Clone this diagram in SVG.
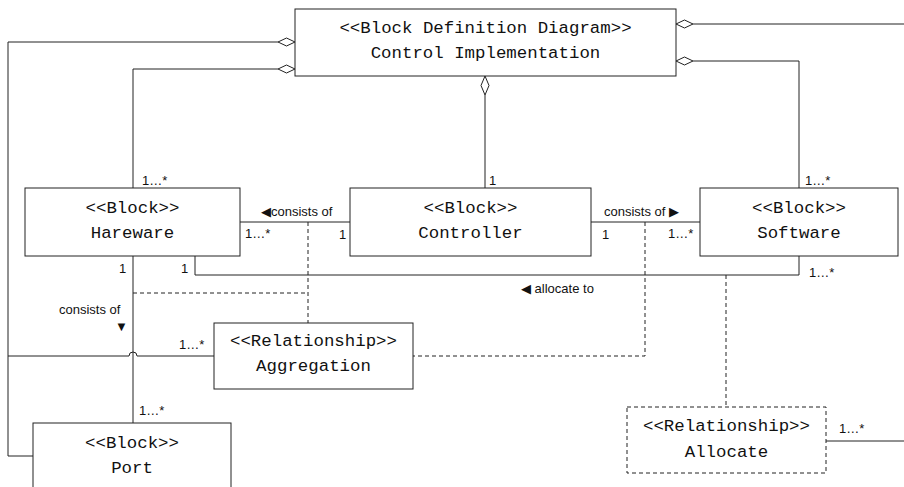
<svg xmlns="http://www.w3.org/2000/svg" width="904" height="487" viewBox="0 0 904 487">
<style>
.box{fill:#fff;stroke:#222;stroke-width:1}
.dbox{fill:#fff;stroke:#222;stroke-width:1;stroke-dasharray:4 3}
.ln{fill:none;stroke:#222;stroke-width:1}
.dl{fill:none;stroke:#222;stroke-width:1;stroke-dasharray:4 3}
.dia{fill:#fff;stroke:#222;stroke-width:1}
.t{font-family:"Liberation Mono","DejaVu Sans Mono",monospace;font-size:17.4px;fill:#111;text-anchor:middle}
.s{font-family:"Liberation Sans","DejaVu Sans",sans-serif;font-size:13px;fill:#111}
</style>
<rect width="904" height="487" fill="#fff"/>
<g id="connectors">
<polyline class="ln" points="278,42 8,42 8,456 33,456"/>
<polygon class="dia" points="295,42 286.5,38 278,42 286.5,46"/>
<polyline class="ln" points="278,69 133,69 133,188"/>
<polygon class="dia" points="295,69 286.5,65 278,69 286.5,73"/>
<line class="ln" x1="485" y1="95" x2="485" y2="188"/>
<polygon class="dia" points="485,76 481,85.5 485,95 489,85.5"/>
<line class="ln" x1="693" y1="24" x2="904" y2="24"/>
<polygon class="dia" points="676,24 684.5,20 693,24 684.5,28"/>
<polyline class="ln" points="693,61 799,61 799,188"/>
<polygon class="dia" points="676,61 684.5,57 693,61 684.5,65"/>
<line class="ln" x1="240" y1="222" x2="350" y2="222"/>
<line class="ln" x1="591" y1="222" x2="700" y2="222"/>
<line class="ln" x1="133" y1="256" x2="133" y2="423"/>
<polyline class="ln" points="195,256 195,275 799,275 799,256"/>
<path class="ln" d="M8,356 H129 A4,4 0 0 1 137,356 H214"/>
<polyline class="dl" points="308,222 308,323"/>
<line class="dl" x1="133" y1="293" x2="308" y2="293"/>
<polyline class="dl" points="645,222 645,356 413,356"/>
<line class="dl" x1="726" y1="275" x2="726" y2="407"/>
<line class="ln" x1="826" y1="441" x2="904" y2="441"/>
</g>
<g id="labels">
<text class="s" x="142" y="185">1…*</text>
<text class="s" x="489" y="185">1</text>
<text class="s" x="805" y="185">1…*</text>
<text class="s" x="261" y="216">◀consists of</text>
<text class="s" x="245" y="238">1…*</text>
<text class="s" x="339" y="239">1</text>
<text class="s" x="604" y="216">consists of ▶</text>
<text class="s" x="602" y="239">1</text>
<text class="s" x="668" y="238">1…*</text>
<text class="s" x="119" y="273">1</text>
<text class="s" x="181" y="273">1</text>
<text class="s" x="809" y="277">1…*</text>
<text class="s" x="521" y="293">◀ allocate to</text>
<text class="s" x="59" y="314">consists of</text>
<text class="s" x="115" y="331">▼</text>
<text class="s" x="179" y="349">1…*</text>
<text class="s" x="139" y="415">1…*</text>
<text class="s" x="839" y="433">1…*</text>
</g>
<g id="bdd">
<rect class="box" x="295" y="9" width="381" height="67"/>
<text class="t" x="485.5" y="33">&lt;&lt;Block Definition Diagram&gt;&gt;</text>
<text class="t" x="485.5" y="58">Control Implementation</text>
</g>
<g id="hardware">
<rect class="box" x="25" y="188" width="215" height="68"/>
<text class="t" x="132.5" y="213">&lt;&lt;Block&gt;&gt;</text>
<text class="t" x="132.5" y="238">Hareware</text>
</g>
<g id="controller">
<rect class="box" x="350" y="188" width="241" height="68"/>
<text class="t" x="470.5" y="213">&lt;&lt;Block&gt;&gt;</text>
<text class="t" x="470.5" y="238">Controller</text>
</g>
<g id="software">
<rect class="box" x="700" y="188" width="198" height="68"/>
<text class="t" x="799" y="213">&lt;&lt;Block&gt;&gt;</text>
<text class="t" x="799" y="238">Software</text>
</g>
<g id="aggregation">
<rect class="box" x="214" y="323" width="199" height="66"/>
<text class="t" x="313.5" y="346">&lt;&lt;Relationship&gt;&gt;</text>
<text class="t" x="313.5" y="371">Aggregation</text>
</g>
<g id="port">
<rect class="box" x="33" y="423" width="198" height="80"/>
<text class="t" x="132" y="448">&lt;&lt;Block&gt;&gt;</text>
<text class="t" x="132" y="473">Port</text>
</g>
<g id="allocate">
<rect class="dbox" x="627" y="407" width="199" height="66"/>
<text class="t" x="726.5" y="431">&lt;&lt;Relationship&gt;&gt;</text>
<text class="t" x="726.5" y="457">Allocate</text>
</g>
</svg>
